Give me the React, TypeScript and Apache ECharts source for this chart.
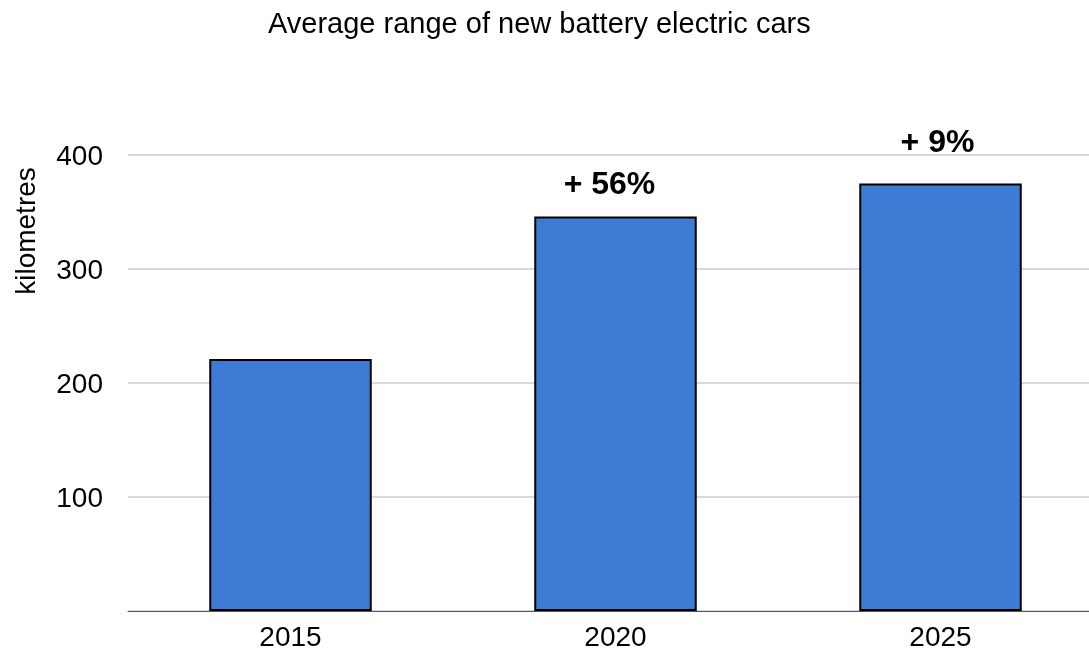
import React, { useEffect, useRef } from "react";
import * as echarts from "echarts";

const titleText = "Average range of new battery electric cars";
const axisName = "kilometres";
const categories = ["2015", "2020", "2025"];
const values = [221, 346, 375];
const changeLabels = ["", "+ 56%", "+ 9%"];
const yTicks = [0, 100, 200, 300, 400];

export default function App() {
  const ref = useRef<HTMLDivElement>(null);
  useEffect(() => {
    if (!ref.current) return;
    const chart = echarts.init(ref.current, null, { renderer: "svg" });
    const font = "Liberation Sans, Arial, sans-serif";
    const labelDistances = [0, 18, 27];
    const labelOffsets = [[0, 0], [-6, 0], [-3, 0]];
    chart.setOption({
      animation: false,
      textStyle: { fontFamily: font },
      title: {
        text: titleText,
        left: 263,
        top: 3,
        textStyle: { fontFamily: font, fontSize: 29, fontWeight: "normal", color: "#000" },
      },
      graphic: [
        {
          type: "text",
          x: 25,
          y: 231,
          rotation: Math.PI / 2,
          style: {
            text: axisName,
            font: `28px ${font}`,
            fill: "#000",
            textAlign: "center",
            textVerticalAlign: "middle",
          },
        },
      ],
      grid: { left: 128, width: 975, top: 155, bottom: 41, outerBoundsMode: "none", containLabel: false },
      xAxis: {
        type: "category",
        data: categories,
        axisLine: { lineStyle: { color: "#555", width: 1 } },
        axisTick: { show: false },
        axisLabel: { fontSize: 28, color: "#000", margin: 11, fontFamily: font },
      },
      yAxis: {
        type: "value",
        min: yTicks[0],
        max: yTicks[yTicks.length - 1],
        interval: 100,
        axisLine: { show: false },
        axisTick: { show: false },
        splitLine: { lineStyle: { color: "#d9d9d9", width: 2 } },
        axisLabel: {
          fontSize: 28,
          color: "#000",
          margin: 25,
          fontFamily: font,
          formatter: (v: number) => (v === 0 ? "" : String(v)),
        },
      },
      series: [
        {
          type: "bar",
          barWidth: "50%",
          data: values.map((v, i) => ({
            value: v,
            label: {
              show: changeLabels[i] !== "",
              position: "top",
              distance: labelDistances[i],
              offset: labelOffsets[i],
              formatter: changeLabels[i],
              fontSize: 32,
              fontWeight: "bold",
              color: "#000",
              fontFamily: font,
            },
          })),
          itemStyle: { color: "#3e7bd4", borderColor: "#000", borderWidth: 2 },
        },
      ],
    });
    return () => chart.dispose();
  }, []);
  return (
    <div
      ref={ref}
      style={{ position: "fixed", left: 0, top: 0, width: 1089, height: 652 }}
    />
  );
}
